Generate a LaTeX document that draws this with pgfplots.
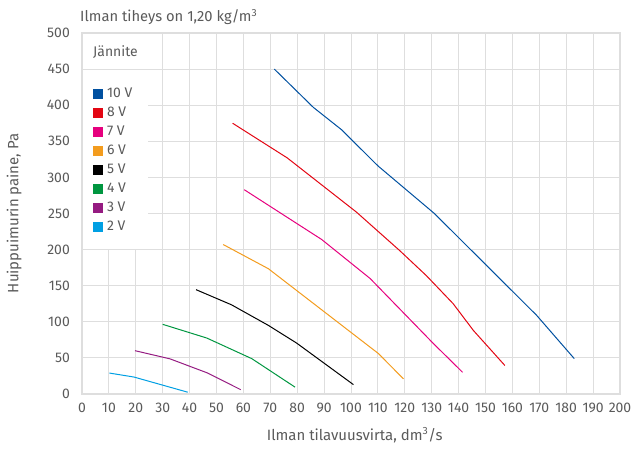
\documentclass[border=0pt]{standalone}
\usepackage{fontspec}
\setmainfont{Fira Sans}
\usepackage{pgfplots}
\pgfplotsset{compat=1.18}
\definecolor{txt}{HTML}{5A5A5A}
\definecolor{gridc}{RGB}{222,222,222}
\definecolor{c10}{HTML}{0050A0}
\definecolor{c8}{HTML}{E30613}
\definecolor{c7}{HTML}{E6007E}
\definecolor{c6}{HTML}{F39C1E}
\definecolor{c5}{HTML}{000000}
\definecolor{c4}{HTML}{009640}
\definecolor{c3}{HTML}{951B81}
\definecolor{c2}{HTML}{009FE3}
\begin{document}
\begin{tikzpicture}
\path[use as bounding box] (-82bp,-55bp) rectangle (553bp,394bp);
\begin{axis}[
  scale only axis, width=538bp, height=361bp,
  xmin=0, xmax=200, ymin=0, ymax=500,
  xtick={0,10,...,200}, ytick={0,50,...,500},
  grid=major, major grid style={gridc, line width=1bp},
  axis line style={gridc, line width=1.5bp},
  major tick length=0pt,
  /pgf/number format/assume math mode=true,
  /pgf/number format/1000 sep={},
  tick label style={font=\fontsize{14}{16}\selectfont, text=txt, inner sep=0pt},
  yticklabel style={anchor=east, xshift=-12bp},
  xticklabel style={anchor=north, yshift=-9bp},
  xlabel={Ilman tilavuusvirta, dm\textsuperscript{3}/s},
  ylabel={Huippuimurin paine, Pa},
  label style={font=\fontsize{15}{17}\selectfont, text=txt},
  xlabel style={at={(axis description cs:0.507,-0.114)}, anchor=center},
  ylabel style={at={(axis description cs:-0.126,0.5)}, anchor=center},
  legend cell align=left,
  legend image code/.code={\path[draw=none, fill=none] (0bp,-5bp) rectangle (11.5bp,5bp); \fill[draw=none] (0bp,-5bp) rectangle (10bp,5bp);},
  legend style={draw=none, fill=none, at={(axis description cs:0.0147,0.855)}, anchor=north west,
    font=\fontsize{14}{16}\selectfont, text=txt, row sep=6bp,
    nodes={inner ysep=0pt, inner xsep=2.5bp, text height=10bp, text depth=3bp}},
]
\fill[white] (axis cs:0,201) rectangle (axis cs:24.5,500);
\draw[gridc, line width=1bp] (axis cs:0,450) -- (axis cs:24.5,450);
\draw[gridc, line width=1.5bp] (axis cs:0,200) -- (axis cs:0,500) -- (axis cs:24.5,500);
\addplot[c10, line width=1bp] coordinates {(71.5,450) (86,397) (96.5,366) (110,316) (131,250) (169,109) (183,49)};
\addlegendentry{10 V}
\addplot[c8, line width=1bp] coordinates {(56,375) (76.3,327) (102,252) (118,199) (128,164) (138,125) (145.5,88) (157.2,39.5)};
\addlegendentry{8 V}
\addplot[c7, line width=1bp] coordinates {(60.3,283) (89.1,214) (107.1,160) (130.6,70) (141.5,30)};
\addlegendentry{7 V}
\addplot[c6, line width=1bp] coordinates {(52.5,207) (69.3,173.5) (110.2,56) (119.5,21)};
\addlegendentry{6 V}
\addplot[c5, line width=1bp] coordinates {(42.4,144.5) (55.6,123.5) (69.3,95) (79.8,70.5) (100.9,13)};
\addlegendentry{5 V}
\addplot[c4, line width=1bp] coordinates {(30,96.5) (46.4,77.5) (63.1,49) (79.2,9.5)};
\addlegendentry{4 V}
\addplot[c3, line width=1bp] coordinates {(19.7,60) (32.7,48.7) (46.4,29.5) (59,6)};
\addlegendentry{3 V}
\addplot[c2, line width=1bp] coordinates {(10.2,29) (19.3,23.5) (39.3,2.5)};
\addlegendentry{2 V}
\end{axis}
\node[anchor=base west, font=\fontsize{14.8}{17}\selectfont, text=txt, inner sep=0pt] at (-2bp,372bp) {Ilman tiheys on 1,20 kg/m\textsuperscript{3}};
\node[anchor=base west, font=\fontsize{14}{16}\selectfont, text=txt, inner sep=0pt] at (11bp,337bp) {Jännite};
\end{tikzpicture}
\end{document}
